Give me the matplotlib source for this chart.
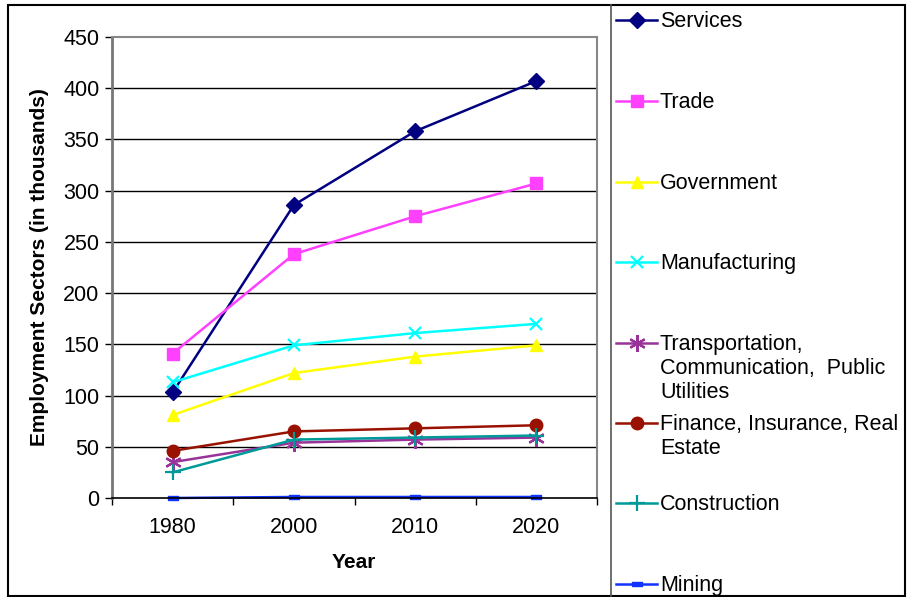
import matplotlib
matplotlib.use("Agg")
import matplotlib.pyplot as plt
from matplotlib.lines import Line2D
from matplotlib.patches import Rectangle
import numpy as np

plt.rcParams['font.family'] = ['Liberation Sans', 'DejaVu Sans']

years = ["1980", "2000", "2010", "2020"]
services = [103, 286, 358, 407]
trade = [141, 238, 275, 307]
government = [81, 122, 138, 149]
manufacturing = [113, 149, 161, 170]
transportation = [35, 54, 57, 59]
finance = [46, 65, 68, 71]
construction = [25, 57, 59, 61]
mining = [0, 1, 1, 1]

dash_marker = [(-1, -0.4), (1, -0.4), (1, 0.4), (-1, 0.4), (-1, -0.4)]

series = [
    (["Services"], services, "#000080", "D", 8),
    (["Trade"], trade, "#FF40FF", "s", 8),
    (["Government"], government, "#FFFF00", "^", 9),
    (["Manufacturing"], manufacturing, "#00FFFF", "x", 9),
    (["Transportation,", "Communication,  Public", "Utilities"], transportation, "#993399", (6, 2, 0), 12),
    (["Finance, Insurance, Real", "Estate"], finance, "#991100", "o", 9),
    (["Construction"], construction, "#009999", "+", 12),
    (["Mining"], mining, "#1133FF", dash_marker, 7),
]

W, H = 908, 597
fig = plt.figure(figsize=(W / 100, H / 100), dpi=100)

def fx(px):
    return px / W

def fy(py):
    return 1 - py / H

def mstyle(mk, ms, col):
    if isinstance(mk, str) and mk in ("x", "+") or isinstance(mk, tuple):
        return dict(marker=mk, ms=ms, mew=1.6, mec=col)
    return dict(marker=mk, ms=ms, mec=col, mfc=col)

# outer frame
fig.add_artist(Rectangle((fx(8), fy(596)), fx(905) - fx(8), fy(5) - fy(596),
                         transform=fig.transFigure, fill=False, ec="black", lw=1.5))
# legend divider
fig.add_artist(Line2D([fx(611), fx(611)], [fy(5), fy(596)], transform=fig.transFigure,
                      color="#555555", lw=1.2))

ax = fig.add_axes([fx(112), fy(498), fx(597) - fx(112), fy(37) - fy(498)])
x = np.arange(len(years))
for labels, vals, col, mk, ms in series:
    ax.plot(x, vals, color=col, lw=1.8, clip_on=False, **mstyle(mk, ms, col))

ax.set_xlim(-0.5, 3.5)
ax.set_ylim(0, 450)
ax.set_yticks(np.arange(0, 451, 50))
ax.set_xticks(x)
ax.set_xticklabels(years)
ax.set_xticks(np.arange(-0.5, 3.6, 1), minor=True)
ax.tick_params(axis="x", which="major", length=0, labelsize=15.5, pad=14)
ax.tick_params(axis="x", which="minor", length=5, width=1, direction="out", color="black")
ax.tick_params(axis="y", length=5, width=1, direction="out", labelsize=15.5, pad=4, color="black")
for yv in range(50, 450, 50):
    ax.axhline(yv, color="black", lw=1.0, zorder=0.5)
for s in ("top", "right"):
    ax.spines[s].set_color("#888888")
    ax.spines[s].set_linewidth(1.5)
ax.spines["left"].set_color("#777777")
ax.spines["left"].set_linewidth(2)
ax.spines["bottom"].set_color("black")
ax.spines["bottom"].set_linewidth(1.2)

ax.set_ylabel("Employment Sectors (in thousands)", fontsize=15, fontweight="bold")
ax.yaxis.set_label_coords((49 - 112) / (597 - 112), 0.5)
fig.text(fx(354), fy(563), "Year", fontsize=15, fontweight="bold", ha="center", va="center")

# legend entries drawn manually
entry_y = [20, 101, 182, 262, 343, 423, 503, 584]
line_gap = 24
for (labels, vals, col, mk, ms), ey in zip(series, entry_y):
    fig.add_artist(Line2D([fx(616), fx(657)], [fy(ey), fy(ey)], transform=fig.transFigure,
                          color=col, lw=1.8))
    fig.add_artist(Line2D([fx(637)], [fy(ey)], transform=fig.transFigure, color=col,
                          lw=0, **mstyle(mk, ms, col)))
    for i, t in enumerate(labels):
        fig.text(fx(660), fy(ey + 1.5 + i * line_gap), t, fontsize=15.5, ha="left", va="center")

fig.savefig("out.png", dpi=100)
